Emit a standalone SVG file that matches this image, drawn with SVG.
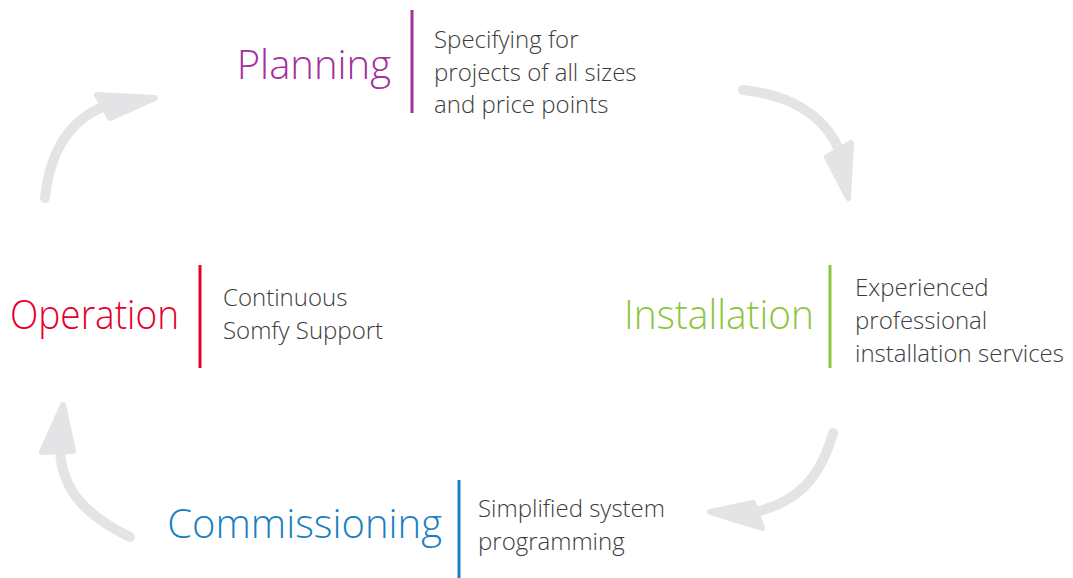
<svg xmlns="http://www.w3.org/2000/svg" width="1073" height="578" viewBox="0 0 1073 578">
<style>
.title{font-family:"Open Sans","Liberation Sans",sans-serif;font-weight:300;font-size:40px}
.desc{font-family:"Open Sans","Liberation Sans",sans-serif;font-weight:300;font-size:24px;fill:#3c3c3c}
.arc{fill:none;stroke:#e4e4e6;stroke-width:10;stroke-linecap:round}
.head{fill:#e4e4e6;stroke:#e4e4e6;stroke-width:6;stroke-linejoin:round}
.bar{stroke-width:3}
</style>
<rect width="1073" height="578" fill="#ffffff"/>
<g id="connectors">
<path class="arc" d="M45,198 C50,150 70,118 110,104"/>
<polygon class="head" points="97,95 155,98 110,118"/>
<path class="arc" d="M743,90 C790,95 825,115 840,152"/>
<polygon class="head" points="827,157 851,143 848,198"/>
<path class="arc" d="M833,433 C820,480 795,503 755,512"/>
<polygon class="head" points="753,503 710,512 762,528"/>
<path class="arc" d="M130,537 C85,515 62,490 60,450"/>
<polygon class="head" points="63,405 42,452 73,451"/>
</g>
<g id="planning">
<text class="title" x="391" y="79" text-anchor="end" fill="#a3309b">Planning</text>
<line class="bar" x1="412" y1="10" x2="412" y2="113" stroke="#a3309b"/>
<text class="desc" x="434" y="48">Specifying for</text>
<text class="desc" x="434" y="81">projects of all sizes</text>
<text class="desc" x="434" y="113">and price points</text>
</g>
<g id="installation">
<text class="title" x="624" y="329" textLength="190" lengthAdjust="spacingAndGlyphs" fill="#8cc63f">Installation</text>
<line class="bar" x1="830" y1="265" x2="830" y2="368" stroke="#8cc63f"/>
<text class="desc" x="855" y="296">Experienced</text>
<text class="desc" x="855" y="329">professional</text>
<text class="desc" x="855" y="362">installation services</text>
</g>
<g id="commissioning">
<text class="title" x="442" y="538" text-anchor="end" fill="#1a7fc2">Commissioning</text>
<line class="bar" x1="459" y1="480" x2="459" y2="578" stroke="#1a7fc2"/>
<text class="desc" x="478" y="517">Simplified system</text>
<text class="desc" x="478" y="550">programming</text>
</g>
<g id="operation">
<text class="title" x="10" y="329" textLength="169" lengthAdjust="spacingAndGlyphs" fill="#e4002b">Operation</text>
<line class="bar" x1="200" y1="265" x2="200" y2="368" stroke="#e4002b"/>
<text class="desc" x="223" y="306">Continuous</text>
<text class="desc" x="223" y="339">Somfy Support</text>
</g>
</svg>
